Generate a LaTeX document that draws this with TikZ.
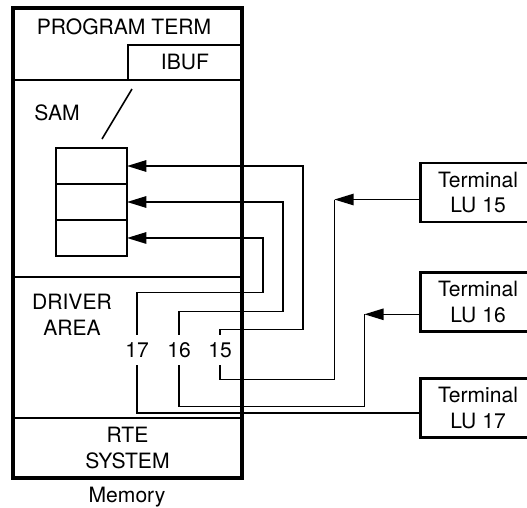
\documentclass[tikz,border=0pt]{standalone}
\usepackage{fontspec}
\setmainfont{TeX Gyre Heros}
\usetikzlibrary{arrows.meta,positioning}

\begin{document}
\begin{tikzpicture}[
    x=0.02cm, y=-0.02cm,
    font=\fontsize{12}{14.5}\selectfont,
    section/.style={draw, line width=1.2pt, minimum width=4.58cm, inner sep=0pt, outer sep=0pt},
    cell/.style={draw, line width=1.3pt, minimum width=1.42cm, minimum height=0.72cm, inner sep=0pt, outer sep=0pt},
    terminal/.style={draw, line width=1.3pt, minimum width=2.3cm, minimum height=1.18cm, align=center},
    lunum/.style={minimum height=0.6cm, inner sep=0pt},
    wire/.style={line width=0.9pt},
    arrow/.style={wire, -{Triangle[length=11pt, width=6.5pt]}}
]
    \useasboundingbox (0,0) rectangle (527,507);
    \clip (0,0) rectangle (527,507);

    % Memory
    \node[section, minimum height=1.44cm] (prog) at (127.5,44) {};
    \node[section, minimum height=3.94cm, below=0pt of prog] (sam) {};
    \node[section, minimum height=2.82cm, below=0pt of sam] (drv) {};
    \node[section, minimum height=1.2cm, align=center, below=0pt of drv] (rte) {RTE\\SYSTEM};
    \draw[line width=1.8pt] (prog.north west) rectangle (rte.south east);
    \node[section, minimum width=2.28cm, minimum height=0.7cm, anchor=south east] (ibuf) at (prog.south east) {IBUF};

    \node (progname) at (124,27) {PROGRAM TERM};
    \node (samname) at (57,113) {SAM};
    \node[align=center] (drvname) at (72,315) {DRIVER\\AREA};
    \node (memname) at (127,497) {Memory};
    \draw[wire] (132,89) -- (102,139);

    % SAM cells
    \node[cell] (c1) at (91.5,166) {};
    \node[cell, below=0pt of c1] (c2) {};
    \node[cell, below=0pt of c2] (c3) {};

    % Terminals
    \node[terminal] (t15) at (478,192.5) {Terminal\\LU 15};
    \node[terminal] (t16) at (478,302) {Terminal\\LU 16};
    \node[terminal] (t17) at (478,408) {Terminal\\LU 17};

    % Driver numbers
    \node[lunum] (l17) at (137,350) {17};
    \node[lunum] (l16) at (179,350) {16};
    \node[lunum] (l15) at (220,350) {15};

    % LU 15
    \draw[arrow] ([yshift=-4]t15.west) -- ++(-85,0) coordinate (k15);
    \draw[wire] (k15) -- ++(0,180) -| (l15.south);
    \draw[arrow] (l15.north) -- ++(0,-5) -- ++(83,0) |- (c1.east);

    % LU 16
    \draw[arrow] ([yshift=-7]t16.west) -- ++(-55,0) coordinate (k16);
    \draw[wire] (k16) -- ++(0,92) -| (l16.south);
    \draw[arrow] (l16.north) -- ++(0,-23) -- ++(104,0) |- (c2.east);

    % LU 17
    \draw[wire] ([yshift=-3]t17.west) -| (l17.south);
    \draw[arrow] (l17.north) -- ++(0,-42) -- ++(126,0) |- (c3.east);

\end{tikzpicture}
\end{document}
